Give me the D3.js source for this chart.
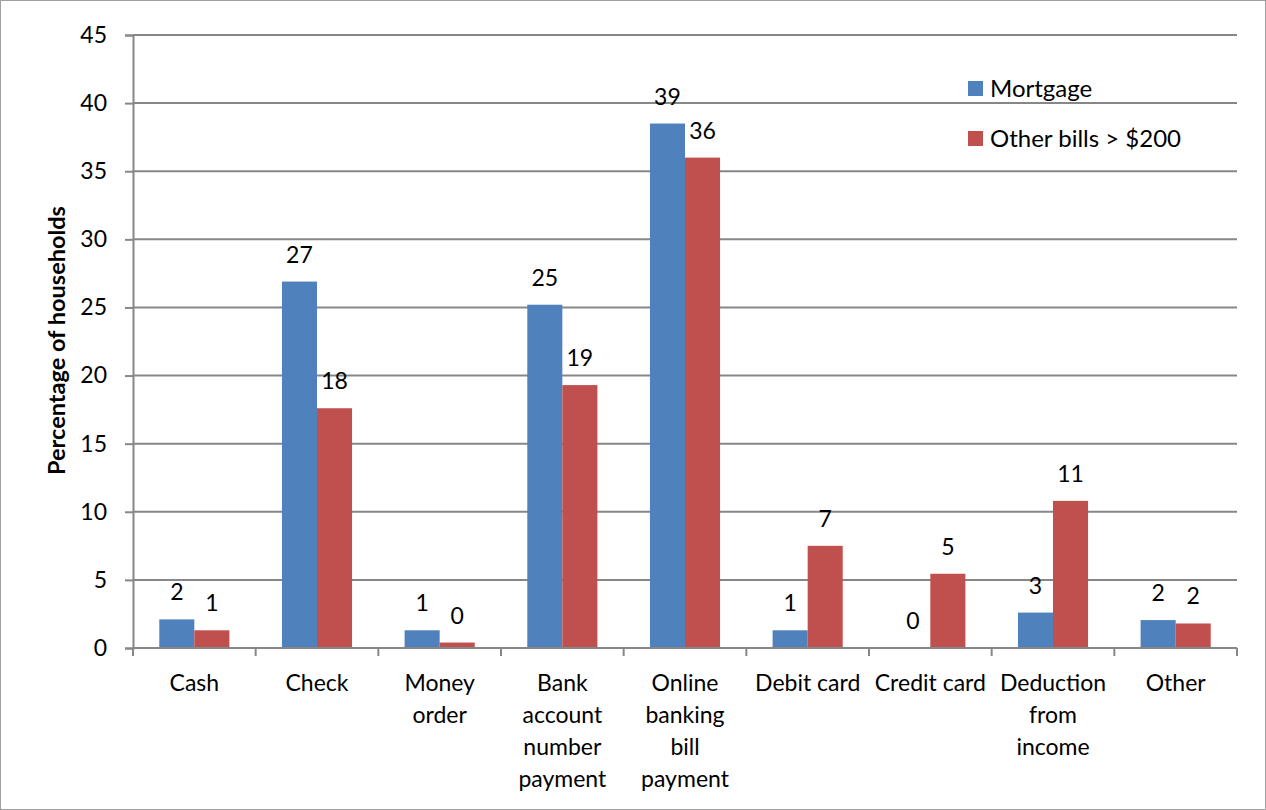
<!DOCTYPE html>
<html><head><meta charset="utf-8">
<script src="https://cdn.jsdelivr.net/npm/d3@7"></script>
<style>body{margin:0;background:#fff}svg{display:block}</style>
</head><body>
<svg id="c" width="1266" height="810"></svg>
<script>
const categories = [["Cash"],["Check"],["Money","order"],["Bank","account","number","payment"],["Online","banking","bill","payment"],["Debit card"],["Credit card"],["Deduction","from","income"],["Other"]];
const seriesNames = ["Mortgage","Other bills > $200"];
const mortgage = [2.1, 26.9, 1.3, 25.2, 38.5, 1.3, 0, 2.6, 2.05];
const otherBills = [1.3, 17.6, 0.4, 19.3, 36.0, 7.5, 5.45, 10.8, 1.8];
const mortgageLabels = ["2","27","1","25","39","1","0","3","2"];
const otherLabels = ["1","18","0","19","36","7","5","11","2"];
const yTicks = [0,5,10,15,20,25,30,35,40,45];
const colors = ["#4F81BD","#C0504D"];

const font = "Lato, 'Open Sans', sans-serif";
const svg = d3.select("#c");
const L = 133, R = 1237, T = 35, B = 648;
svg.append("rect").attr("x",0.5).attr("y",0.5).attr("width",1265).attr("height",809)
  .attr("fill","#fff").attr("stroke","#a0a0a0").attr("stroke-width",1);

const x = d3.scaleBand().domain(d3.range(categories.length)).range([L,R]).paddingInner(0).paddingOuter(0);
const inner = d3.scaleBand().domain([0,1]).range([0, x.bandwidth()]).paddingInner(0).paddingOuter(0.75);
const y = d3.scaleLinear().domain([0,45]).range([B,T]);

// gridlines
svg.append("g").selectAll("line").data(yTicks.filter(d=>d>0)).join("line")
  .attr("x1",L).attr("x2",R).attr("y1",d=>y(d)).attr("y2",d=>y(d))
  .attr("stroke","#878787").attr("stroke-width",2);

// y axis
const yAxis = svg.append("g").attr("transform",`translate(${L},0)`)
  .call(d3.axisLeft(y).tickValues(yTicks).tickSize(8).tickPadding(18));
yAxis.select(".domain").attr("stroke","#878787").attr("stroke-width",2);
yAxis.selectAll(".tick line").attr("stroke","#878787").attr("stroke-width",2);
yAxis.selectAll("text").attr("font-family",font).attr("font-size",23).attr("fill","#000");

// bars
const data = categories.map((c,i)=>({i, vals:[mortgage[i],otherBills[i]], labs:[mortgageLabels[i],otherLabels[i]]}));
const g = svg.append("g").selectAll("g").data(data).join("g").attr("transform",d=>`translate(${x(d.i)},0)`);
g.selectAll("rect").data(d=>d.vals.map((v,k)=>({v,k}))).join("rect")
  .attr("x",d=>inner(d.k)).attr("width",inner.bandwidth())
  .attr("y",d=>y(d.v)).attr("height",d=>y(0)-y(d.v))
  .attr("fill",d=>colors[d.k]);
g.selectAll("text.lab").data(d=>d.vals.map((v,k)=>({v,k,l:d.labs[k]}))).join("text")
  .attr("class","lab")
  .attr("x",d=>inner(d.k)+inner.bandwidth()/2).attr("y",d=>y(d.v)-19)
  .attr("text-anchor","middle").attr("font-family",font).attr("font-size",23).attr("fill","#000")
  .text(d=>d.l);

// x axis
const xAxis = svg.append("g").attr("transform",`translate(0,${B})`);
xAxis.append("line").attr("x1",L).attr("x2",R).attr("stroke","#878787").attr("stroke-width",2);
const bounds = d3.range(categories.length+1).map(i=> i<categories.length ? x(i) : R);
xAxis.selectAll("line.t").data(bounds).join("line").attr("class","t")
  .attr("x1",d=>d).attr("x2",d=>d).attr("y1",0).attr("y2",8)
  .attr("stroke","#878787").attr("stroke-width",2);
const xl = xAxis.selectAll("text").data(categories).join("text")
  .attr("text-anchor","middle").attr("font-family",font).attr("font-size",23).attr("fill","#000")
  .attr("transform",(d,i)=>`translate(${x(i)+x.bandwidth()/2},0)`);
xl.selectAll("tspan").data(d=>d).join("tspan").attr("x",0).attr("y",(d,j)=>43+j*32).text(d=>d);

// y title
svg.append("text").attr("transform",`translate(65,${(T+B)/2+ -1}) rotate(-90)`)
  .attr("text-anchor","middle").attr("font-family",font).attr("font-size",23.5).attr("font-weight","bold")
  .text("Percentage of households");

// legend
const lg = svg.append("g").selectAll("g").data(seriesNames).join("g")
  .attr("transform",(d,i)=>`translate(968,${81+i*50})`);
lg.append("rect").attr("width",15).attr("height",15).attr("fill",(d,i)=>colors[i]);
lg.append("text").attr("x",22).attr("y",16).attr("font-family",font).attr("font-size",24).attr("fill","#000").text(d=>d);
</script>
</body></html>
